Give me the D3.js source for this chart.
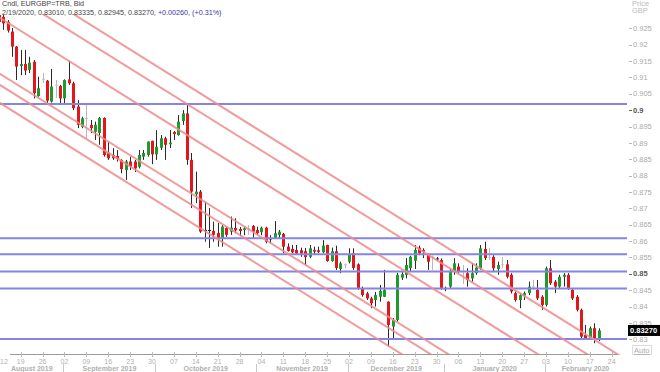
<!DOCTYPE html>
<html lang="en">
<head>
    <meta charset="UTF-8">
    <title>EURGBP candles</title>
    <script src="https://cdnjs.cloudflare.com/ajax/libs/d3/7.8.5/d3.min.js"></script>
    <style>
        body { margin: 0; background: #fff; }
        svg { display: block; }
        text { font-family: "Liberation Sans", Arial, sans-serif; }
    </style>
</head>
<body>
    <svg width="660" height="372"></svg>
    <script>
        "use strict";

        // daily bars, one per weekday starting here
        const firstDay = "2019-08-12";
        const opens = [
            0.9291, 0.9285, 0.9270, 0.9240, 0.9194, 0.9135, 0.9141, 0.9123, 0.9148, 0.9043,
            0.9096, 0.9090, 0.9026, 0.9076, 0.9074, 0.9036, 0.9094, 0.9082, 0.9011, 0.8949,
            0.8976, 0.8955, 0.8934, 0.8930, 0.8976, 0.8870, 0.8863, 0.8860, 0.8848, 0.8817,
            0.8843, 0.8843, 0.8827, 0.8858, 0.8863, 0.8906, 0.8865, 0.8885, 0.8914, 0.8896,
            0.8933, 0.8924, 0.8967, 0.8990, 0.8848, 0.8743, 0.8751, 0.8634, 0.8634, 0.8631,
            0.8625, 0.8609, 0.8640, 0.8629, 0.8640, 0.8637, 0.8634, 0.8639, 0.8646, 0.8634,
            0.8627, 0.8641, 0.8608, 0.8610, 0.8619, 0.8622, 0.8583, 0.8576, 0.8573, 0.8572,
            0.8569, 0.8552, 0.8573, 0.8572, 0.8566, 0.8588, 0.8539, 0.8569, 0.8515, 0.8529,
            0.8537, 0.8563, 0.8529, 0.8456, 0.8440, 0.8425, 0.8420, 0.8430, 0.8430, 0.8415,
            0.8339, 0.8359, 0.8488, 0.8497, 0.8517, 0.8540, 0.8580, 0.8573, 0.8558, 0.8553,
            0.8547, 0.8542, 0.8456, 0.8461, 0.8507, 0.8522, 0.8510, 0.8502, 0.8486, 0.8502,
            0.8517, 0.8576, 0.8552, 0.8552, 0.8515, 0.8527, 0.8529, 0.8497, 0.8441, 0.8420,
            0.8433, 0.8441, 0.8462, 0.8451, 0.8430, 0.8405, 0.8517, 0.8476, 0.8461, 0.8491,
            0.8497, 0.8451, 0.8430, 0.8390, 0.8313, 0.8303, 0.8334, 0.83010
        ];
        const highs = [
            0.9300, 0.9291, 0.9275, 0.9251, 0.9196, 0.9184, 0.9184, 0.9163, 0.9153, 0.9102,
            0.9114, 0.9092, 0.9126, 0.9092, 0.9077, 0.9094, 0.9151, 0.9087, 0.9031, 0.8980,
            0.9016, 0.8970, 0.8965, 0.8979, 0.8978, 0.8904, 0.8884, 0.8878, 0.8850, 0.8848,
            0.8858, 0.8848, 0.8878, 0.8878, 0.8904, 0.8907, 0.8939, 0.8924, 0.8919, 0.8939,
            0.8936, 0.8985, 0.9000, 0.9016, 0.8869, 0.8812, 0.8756, 0.8720, 0.8701, 0.8659,
            0.8655, 0.8649, 0.8644, 0.8675, 0.8670, 0.8643, 0.8644, 0.8649, 0.8649, 0.8644,
            0.8644, 0.8644, 0.8618, 0.8661, 0.8634, 0.8625, 0.8593, 0.8588, 0.8588, 0.8580,
            0.8579, 0.8588, 0.8583, 0.8583, 0.8603, 0.8589, 0.8580, 0.8586, 0.8537, 0.8532,
            0.8578, 0.8578, 0.8532, 0.8461, 0.8445, 0.8430, 0.8445, 0.8466, 0.8512, 0.8416,
            0.8365, 0.8503, 0.8507, 0.8548, 0.8555, 0.8588, 0.8586, 0.8578, 0.8562, 0.8556,
            0.8551, 0.8547, 0.8461, 0.8517, 0.8548, 0.8532, 0.8527, 0.8517, 0.8532, 0.8532,
            0.8588, 0.8598, 0.8579, 0.8557, 0.8537, 0.8552, 0.8542, 0.8502, 0.8446, 0.8440,
            0.8446, 0.8476, 0.8481, 0.8481, 0.8435, 0.8522, 0.8542, 0.8481, 0.8497, 0.8502,
            0.8502, 0.8456, 0.8435, 0.8394, 0.8344, 0.8339, 0.8349, 0.83335
        ];
        const lows = [
            0.9260, 0.9245, 0.9237, 0.9163, 0.9092, 0.9107, 0.9107, 0.9113, 0.9036, 0.9041,
            0.9083, 0.9022, 0.9023, 0.9037, 0.9022, 0.9022, 0.9077, 0.9000, 0.8945, 0.8945,
            0.8915, 0.8930, 0.8909, 0.8894, 0.8858, 0.8848, 0.8848, 0.8843, 0.8807, 0.8787,
            0.8817, 0.8811, 0.8822, 0.8848, 0.8858, 0.8835, 0.8848, 0.8878, 0.8848, 0.8884,
            0.8909, 0.8922, 0.8955, 0.8833, 0.8701, 0.8716, 0.8625, 0.8598, 0.8579, 0.8598,
            0.8583, 0.8583, 0.8613, 0.8619, 0.8624, 0.8615, 0.8618, 0.8619, 0.8609, 0.8619,
            0.8618, 0.8593, 0.8593, 0.8609, 0.8609, 0.8563, 0.8568, 0.8563, 0.8558, 0.8552,
            0.8527, 0.8548, 0.8558, 0.8563, 0.8563, 0.8537, 0.8537, 0.8512, 0.8502, 0.8517,
            0.8532, 0.8512, 0.8451, 0.8430, 0.8420, 0.8395, 0.8400, 0.8415, 0.8429, 0.8277,
            0.8304, 0.8354, 0.8481, 0.8486, 0.8506, 0.8515, 0.8557, 0.8548, 0.8512, 0.8512,
            0.8540, 0.8451, 0.8447, 0.8456, 0.8497, 0.8503, 0.8469, 0.8461, 0.8476, 0.8497,
            0.8512, 0.8542, 0.8542, 0.8507, 0.8497, 0.8517, 0.8486, 0.8440, 0.8415, 0.8395,
            0.8420, 0.8435, 0.8451, 0.8420, 0.8390, 0.8400, 0.8466, 0.8441, 0.8456, 0.8461,
            0.8451, 0.8420, 0.8385, 0.8303, 0.8303, 0.8303, 0.8288, 0.82945
        ];
        const closes = [
            0.9269, 0.9265, 0.9243, 0.9194, 0.9133, 0.9141, 0.9121, 0.9145, 0.9052, 0.9067,
            0.9094, 0.9029, 0.9072, 0.9078, 0.9036, 0.9092, 0.9082, 0.9006, 0.8955, 0.8975,
            0.8974, 0.8945, 0.8955, 0.8976, 0.8863, 0.8853, 0.8853, 0.8851, 0.8820, 0.8843,
            0.8827, 0.8822, 0.8863, 0.8869, 0.8904, 0.8865, 0.8888, 0.8914, 0.8894, 0.8901,
            0.8927, 0.8965, 0.8990, 0.8848, 0.8751, 0.8751, 0.8629, 0.8634, 0.8634, 0.8619,
            0.8609, 0.8644, 0.8619, 0.8641, 0.8633, 0.8631, 0.8639, 0.8637, 0.8629, 0.8624,
            0.8641, 0.8598, 0.8608, 0.8624, 0.8629, 0.8583, 0.8570, 0.8566, 0.8563, 0.8562,
            0.8551, 0.8578, 0.8568, 0.8567, 0.8586, 0.8539, 0.8569, 0.8518, 0.8532, 0.8527,
            0.8560, 0.8518, 0.8456, 0.8435, 0.8425, 0.8410, 0.8435, 0.8448, 0.8451, 0.8344,
            0.8359, 0.8497, 0.8499, 0.8527, 0.8552, 0.8573, 0.8563, 0.8568, 0.8537, 0.8551,
            0.8547, 0.8456, 0.8456, 0.8507, 0.8532, 0.8507, 0.8508, 0.8481, 0.8502, 0.8519,
            0.8578, 0.8548, 0.8550, 0.8517, 0.8527, 0.8529, 0.8491, 0.8446, 0.8420, 0.8435,
            0.8441, 0.8461, 0.8460, 0.8425, 0.8405, 0.8517, 0.8471, 0.8461, 0.8491, 0.8497,
            0.8456, 0.8425, 0.8390, 0.8308, 0.8303, 0.8334, 0.8301, 0.83270
        ];

        // support / resistance levels
        const levels = [0.9019, 0.8609, 0.8560, 0.8507, 0.8455, 0.8301];

        // parallel channel lines, price at channelFrom and at channelTo
        const channelFrom = "2019-08-12";
        const channelTo = "2020-03-09";
        const channelStart = [0.9284, 0.9378, 0.9436, 0.9113, 0.9079, 0.9024];
        const channelEnd = [0.8030, 0.8124, 0.8182, 0.7859, 0.7825, 0.7770];

        const yTicks = [0.925, 0.92, 0.915, 0.91, 0.905, 0.9, 0.895, 0.89, 0.885, 0.88, 0.875, 0.87,
                        0.865, 0.86, 0.855, 0.85, 0.845, 0.84, 0.835, 0.83];
        const yStrong = [0.9, 0.85];

        const svg = d3.select("svg");
        const plotRight = 627, plotTop = 14, plotBottom = 355;

        const parse = d3.timeParse("%Y-%m-%d");
        const days = d3.timeDay.range(parse(firstDay), parse("2020-03-11"))
            .filter(d => d.getDay() !== 0 && d.getDay() !== 6);
        const dayIndex = new Map(days.map((d, i) => [+d, i]));
        const idx = s => dayIndex.get(+parse(s));

        const x = d3.scaleLinear().domain([0, 135]).range([-1.2, 589.8]);
        const y = d3.scaleLinear().domain([0.83, 0.925]).range([339.3, 28.3]);

        const bars = opens.map((o, i) => ({ i, date: days[i], o, h: highs[i], l: lows[i], c: closes[i] }));

        svg.append("clipPath").attr("id", "plot")
            .append("rect").attr("x", 0).attr("y", plotTop)
            .attr("width", plotRight).attr("height", plotBottom - plotTop);

        const plot = svg.append("g").attr("clip-path", "url(#plot)");

        // candles
        const colorOf = d => {
            const diff = d.c - d.o;
            if (diff === 0) return "#222";
            if (Math.abs(diff) < 0.00035) return "#c2c2c2";
            return diff > 0 ? "#1f9a2e" : "#e4161b";
        };
        const candle = plot.append("g").selectAll("g").data(bars).enter().append("g");
        candle.append("line")
            .attr("x1", d => Math.round(x(d.i)) + 0.5)
            .attr("x2", d => Math.round(x(d.i)) + 0.5)
            .attr("y1", d => y(d.h))
            .attr("y2", d => y(d.l))
            .attr("stroke", d => colorOf(d) === "#c2c2c2" ? "#b8b8b8" : "#2a2a2a")
            .attr("stroke-width", 1);
        candle.append("rect")
            .attr("x", d => Math.round(x(d.i)) - 1)
            .attr("width", 3)
            .attr("y", d => y(Math.max(d.o, d.c)))
            .attr("height", d => Math.max(1, Math.abs(y(d.o) - y(d.c))))
            .attr("fill", colorOf);

        // horizontal levels
        plot.append("g").selectAll("line").data(levels).enter().append("line")
            .attr("x1", 0).attr("x2", plotRight)
            .attr("y1", d => y(d)).attr("y2", d => y(d))
            .attr("stroke", "#8484e4").attr("stroke-width", 2);

        // channel lines
        plot.append("g").selectAll("line").data(channelStart).enter().append("line")
            .attr("x1", x(idx(channelFrom))).attr("x2", x(idx(channelTo)))
            .attr("y1", d => y(d))
            .attr("y2", (d, k) => y(channelEnd[k]))
            .attr("stroke", "#ee8a8a").attr("stroke-opacity", 0.85).attr("stroke-width", 2);

        // right price axis
        const yAxis = svg.append("g");
        yAxis.selectAll("line").data(yTicks).enter().append("line")
            .attr("x1", 629).attr("x2", 632)
            .attr("y1", d => Math.round(y(d)) + 0.5).attr("y2", d => Math.round(y(d)) + 0.5)
            .attr("stroke", d => yStrong.includes(d) ? "#666" : "#bbb");
        yAxis.selectAll("text").data(yTicks).enter().append("text")
            .attr("x", 633).attr("y", d => y(d)).attr("dy", "0.35em")
            .attr("font-size", 7.5)
            .attr("font-weight", d => yStrong.includes(d) ? "bold" : "normal")
            .attr("fill", d => yStrong.includes(d) ? "#555" : "#aaa")
            .text(d => String(+d.toFixed(3)));

        svg.append("text").attr("x", 632).attr("y", 5.5).attr("font-size", 7.5).attr("fill", "#bbb").text("Price");
        svg.append("text").attr("x", 632).attr("y", 13).attr("font-size", 7.5).attr("fill", "#bbb").text("GBP");

        const last = bars[bars.length - 1];
        const prev = bars[bars.length - 2];
        svg.append("rect").attr("x", 628).attr("y", y(last.c) - 5.5).attr("width", 32).attr("height", 11).attr("fill", "#000");
        svg.append("text").attr("x", 630).attr("y", y(last.c)).attr("dy", "0.35em")
            .attr("font-size", 7.5).attr("font-weight", "bold").attr("fill", "#fff")
            .text(last.c.toFixed(5));

        svg.append("rect").attr("x", 632.5).attr("y", 345.5).attr("width", 19).attr("height", 9)
            .attr("fill", "none").attr("stroke", "#ddd");
        svg.append("text").attr("x", 634).attr("y", 353).attr("font-size", 7.5).attr("fill", "#aaa")
            .attr("text-decoration", "underline").text("Auto");

        // bottom time axis
        const xAxis = svg.append("g");
        xAxis.append("line").attr("x1", 10).attr("x2", 617).attr("y1", 354.5).attr("y2", 354.5).attr("stroke", "#9a9a9a");
        const mondays = days.filter(d => d.getDay() === 1 && d <= parse("2020-02-24"));
        xAxis.selectAll(".tick").data(mondays).enter().append("line")
            .attr("x1", d => Math.round(x(dayIndex.get(+d))) + 0.5)
            .attr("x2", d => Math.round(x(dayIndex.get(+d))) + 0.5)
            .attr("y1", 352).attr("y2", 357).attr("stroke", "#bbb");
        xAxis.selectAll(".day").data(mondays).enter().append("text")
            .attr("x", d => Math.max(4, x(dayIndex.get(+d))))
            .attr("y", 363.5).attr("text-anchor", "middle")
            .attr("font-size", 7).attr("fill", "#b0b0b0")
            .text(d3.timeFormat("%d"));

        const monthStarts = days.filter((d, i) => i > 0 && d.getMonth() !== days[i - 1].getMonth() && d <= parse("2020-02-28"));
        const seps = monthStarts.map(d => x(dayIndex.get(+d)) - 1);
        xAxis.selectAll(".sep").data(seps).enter().append("line")
            .attr("x1", d => Math.round(d) + 0.5).attr("x2", d => Math.round(d) + 0.5)
            .attr("y1", 364).attr("y2", 372).attr("stroke", "#c8c8c8");
        const bounds = [0].concat(seps, [626]);
        const monthNames = [days[0]].concat(monthStarts);
        xAxis.selectAll(".month").data(monthNames).enter().append("text")
            .attr("x", (d, k) => (bounds[k] + bounds[k + 1]) / 2)
            .attr("y", 371).attr("text-anchor", "middle")
            .attr("font-size", 7).attr("font-weight", "bold").attr("fill", "#b0b0b0")
            .text(d3.timeFormat("%B %Y"));

        // header
        const fmt5 = d3.format(".5f");
        const change = last.c - prev.c;
        svg.append("text").attr("x", 2).attr("y", 6).attr("font-size", 7.2).attr("fill", "#444")
            .text("Cndl, EURGBP=TRB, Bid");
        const hdr = svg.append("text").attr("x", 2).attr("y", 15.3).attr("font-size", 7.2).attr("fill", "#444");
        hdr.append("tspan").text(`${d3.timeFormat("%-m/%-d/%Y")(last.date)}, ${fmt5(last.o)}, ${fmt5(last.h)}, ${fmt5(last.l)}, ${fmt5(last.c)}, `);
        hdr.append("tspan").attr("fill", "#3434a8")
            .text(`${d3.format("+.5f")(change)}, (${d3.format("+.2%")(change / prev.c)})`);
    </script>
</body>
</html>
